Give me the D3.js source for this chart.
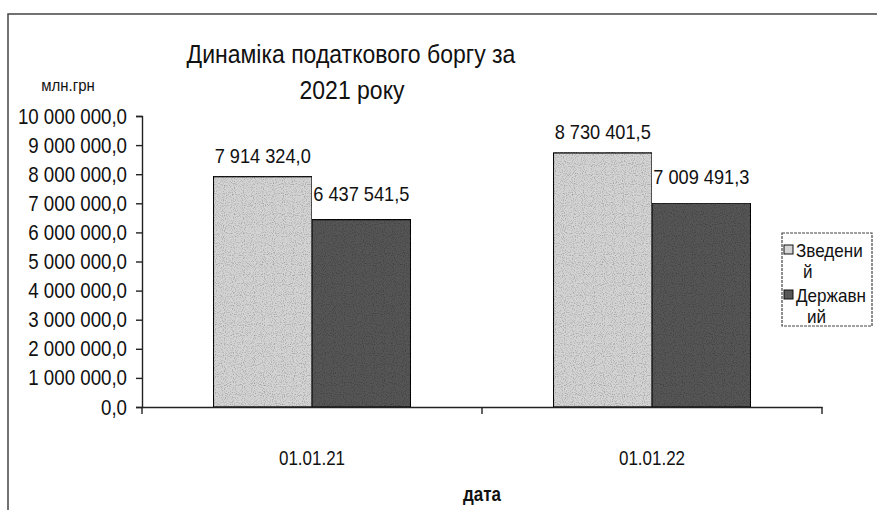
<!DOCTYPE html>
<meta charset="utf-8">
<head>
    <title>Динаміка податкового боргу</title>
    <script src="https://cdn.jsdelivr.net/npm/d3@7/dist/d3.min.js"></script>
</head>

<style>
    body { margin: 0; background: #fff; }
    svg { display: block; }
    text {
        font-family: "Liberation Sans", Arial, sans-serif;
        fill: #111;
    }
    .axis path, .axis line { stroke: #222; stroke-width: 1.4; }
    .axis text { font-size: 22px; }
</style>

<svg></svg>

<script>
    // data
    var categories = ["01.01.21", "01.01.22"];
    var seriesNames = ["Зведений", "Державний"];
    var zvedenyi = [7914324.0, 8730401.5];
    var derzhavnyi = [6437541.5, 7009491.3];
    var yTicks = [0, 1e6, 2e6, 3e6, 4e6, 5e6, 6e6, 7e6, 8e6, 9e6, 10e6];

    var vWidth = 877;
    var vHeight = 510;
    var colors = ["#d4d4d4", "#575757"];
    var labelGap = [14, 19];

    var svg = d3.select('svg')
        .attr('width', vWidth)
        .attr('height', vHeight);

    // no narrow font installed, so squeeze text around its own x
    function narrow(sel, k) {
        sel.each(function () {
            var t = d3.select(this);
            var x = +t.attr('x') || 0;
            t.attr('transform', 'translate(' + x + ',0) scale(' + k + ',1) translate(' + (-x) + ',0)');
        });
    }

    // grainy look of the scanned fills
    var defs = svg.append('defs');
    var f = defs.append('filter').attr('id', 'grain').attr('x', 0).attr('y', 0).attr('width', 1).attr('height', 1);
    f.append('feTurbulence').attr('type', 'fractalNoise').attr('baseFrequency', 0.9).attr('numOctaves', 1).attr('seed', 3).attr('result', 'n');
    f.append('feColorMatrix').attr('in', 'n').attr('type', 'matrix')
        .attr('values', '0 0 0 0 0  0 0 0 0 0  0 0 0 0 0  0 0 0 -1.4 0.75').attr('result', 'dots');
    f.append('feComposite').attr('in', 'dots').attr('in2', 'SourceGraphic').attr('operator', 'in').attr('result', 'd2');
    f.append('feMerge').call(function (m) {
        m.append('feMergeNode').attr('in', 'SourceGraphic');
        m.append('feMergeNode').attr('in', 'd2');
    });

    // outer frame (only left and top edges show in the scan)
    svg.append('rect')
        .attr('x', 8).attr('y', 14)
        .attr('width', vWidth + 20).attr('height', vHeight + 20)
        .attr('fill', 'none')
        .attr('stroke', '#444')
        .attr('stroke-width', 1.5);

    var loc = d3.formatLocale({decimal: ",", thousands: " ", grouping: [3], currency: ["", ""]});
    var fmt = loc.format(",.1f");

    var x0 = d3.scaleBand().domain(categories).range([142, 822]).paddingInner(0.42).paddingOuter(0.21);
    var x1 = d3.scaleBand().domain(seriesNames).range([0, x0.bandwidth()]);
    var y = d3.scaleLinear().domain([0, 10e6]).range([407, 116]);

    var rows = categories.map(function (c, i) {
        return {cat: c, values: [zvedenyi[i], derzhavnyi[i]]};
    });

    // bars
    var grp = svg.append('g').selectAll('g').data(rows).enter().append('g')
        .attr('transform', function (d) { return 'translate(' + x0(d.cat) + ',0)'; });

    grp.selectAll('rect').data(function (d) { return d.values; }).enter().append('rect')
        .attr('x', function (d, i) { return x1(seriesNames[i]); })
        .attr('y', function (d) { return y(d); })
        .attr('width', x1.bandwidth())
        .attr('height', function (d) { return y(0) - y(d); })
        .attr('fill', function (d, i) { return colors[i]; })
        .attr('filter', 'url(#grain)')
        .attr('stroke', '#111')
        .attr('stroke-width', 1.3);

    grp.selectAll('text').data(function (d) { return d.values; }).enter().append('text')
        .attr('x', function (d, i) { return x1(seriesNames[i]) + x1.bandwidth() / 2; })
        .attr('y', function (d, i) { return y(d) - labelGap[i]; })
        .attr('text-anchor', 'middle')
        .style('font-size', '20px')
        .text(fmt)
        .call(narrow, 0.91);

    // axes
    svg.append('g').attr('class', 'axis')
        .attr('transform', 'translate(142,0)')
        .call(d3.axisLeft(y).tickValues(yTicks).tickFormat(fmt).tickSizeOuter(0).tickSize(6).tickPadding(9))
        .selectAll('text').call(narrow, 0.85);

    svg.append('g').attr('class', 'axis')
        .attr('transform', 'translate(0,407)')
        .call(d3.axisBottom(x0).tickSize(0).tickPadding(44).tickSizeOuter(0))
        .call(function (g) {
            g.selectAll('text').style('font-size', '20px').call(narrow, 0.85);
            // Excel-style ticks between categories
            var edges = [142, 142 + x0.step(), 822];
            g.selectAll('.sep').data(edges).enter().append('line')
                .attr('x1', function (d) { return d; }).attr('x2', function (d) { return d; })
                .attr('y1', 0).attr('y2', 7)
                .attr('stroke', '#222').attr('stroke-width', 1.4);
        });

    // titles
    var t1 = svg.append('text').attr('x', 351).attr('y', 63).attr('text-anchor', 'middle')
        .style('font-size', '25px').text('Динаміка податкового боргу за');
    var t2 = svg.append('text').attr('x', 352).attr('y', 99).attr('text-anchor', 'middle')
        .style('font-size', '25px').text('2021 року');
    narrow(t1, 0.92);
    narrow(t2, 0.92);

    svg.append('text').attr('x', 68).attr('y', 91).attr('text-anchor', 'middle')
        .style('font-size', '17px').text('млн.грн').call(narrow, 0.88);

    svg.append('text').attr('x', 482).attr('y', 501).attr('text-anchor', 'middle')
        .style('font-size', '20px').style('font-weight', 'bold').text('дата').call(narrow, 0.85);

    // legend, text wrapped like in the original
    var legend = svg.append('g');
    legend.append('rect')
        .attr('x', 782).attr('y', 233).attr('width', 90).attr('height', 93)
        .attr('fill', '#fff').attr('stroke', '#444').attr('stroke-width', 1.2)
        .attr('stroke-dasharray', '3 1');
    var legendLines = [["Зведени", "й"], ["Державн", "ий"]];
    legendLines.forEach(function (lines, i) {
        var top = 245 + i * 45;
        legend.append('rect')
            .attr('x', 784).attr('y', top).attr('width', 9).attr('height', 9)
            .attr('fill', colors[i]).attr('stroke', '#111').attr('stroke-width', 1);
        legend.append('text').attr('x', 796).attr('y', top + 12)
            .style('font-size', '18px').text(lines[0]).call(narrow, 0.95);
        legend.append('text').attr('x', 803 + i * 4).attr('y', top + 33)
            .style('font-size', '18px').text(lines[1]).call(narrow, 0.95);
    });
</script>
